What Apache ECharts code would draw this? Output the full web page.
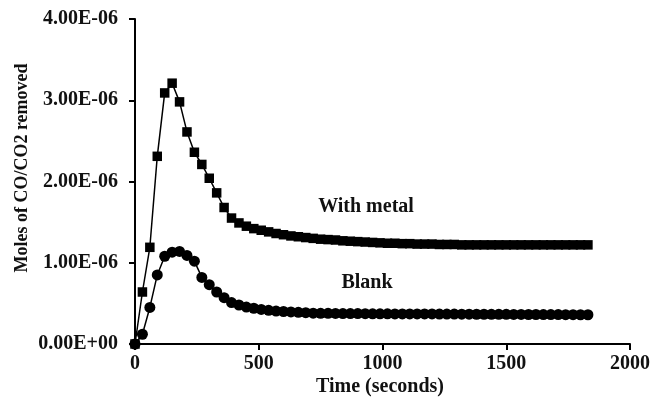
<!DOCTYPE html>
<html>
<head>
<meta charset="utf-8">
<script src="https://cdn.jsdelivr.net/npm/echarts@6/dist/echarts.min.js"></script>
<style>
  html, body { margin: 0; padding: 0; background: #fff; }
  #chart { width: 653px; height: 410px; }
</style>
</head>
<body>
<div id="chart"></div>
<script>
// time in seconds, sampled every 30 s
const times = [
  0, 30, 60, 90, 120, 150, 180, 210, 240, 270, 300, 330, 360, 390, 420, 450,
  480, 510, 540, 570, 600, 630, 660, 690, 720, 750, 780, 810, 840, 870, 900,
  930, 960, 990, 1020, 1050, 1080, 1110, 1140, 1170, 1200, 1230, 1260, 1290,
  1320, 1350, 1380, 1410, 1440, 1470, 1500, 1530, 1560, 1590, 1620, 1650,
  1680, 1710, 1740, 1770, 1800, 1830
];

// moles removed, in units of 1E-06
const withMetal = [
  0, 0.64, 1.19, 2.31, 3.09, 3.21, 2.98, 2.61, 2.36, 2.21, 2.04, 1.86, 1.68,
  1.55, 1.49, 1.45, 1.42, 1.40, 1.38, 1.36, 1.345, 1.33, 1.32, 1.31, 1.30,
  1.29, 1.285, 1.28, 1.27, 1.265, 1.26, 1.255, 1.25, 1.245, 1.24, 1.24, 1.235,
  1.235, 1.23, 1.23, 1.23, 1.225, 1.225, 1.225, 1.22, 1.22, 1.22, 1.22, 1.22,
  1.22, 1.22, 1.22, 1.22, 1.22, 1.22, 1.22, 1.22, 1.22, 1.22, 1.22, 1.22, 1.22
];

const blank = [
  0, 0.12, 0.45, 0.85, 1.08, 1.13, 1.14, 1.09, 1.02, 0.82, 0.73, 0.64, 0.57,
  0.51, 0.48, 0.455, 0.44, 0.425, 0.415, 0.405, 0.40, 0.395, 0.39, 0.385,
  0.38, 0.378, 0.377, 0.376, 0.375, 0.375, 0.374, 0.373, 0.372, 0.372, 0.371,
  0.37, 0.37, 0.37, 0.37, 0.37, 0.37, 0.369, 0.368, 0.368, 0.367, 0.367,
  0.366, 0.366, 0.365, 0.365, 0.365, 0.364, 0.364, 0.363, 0.363, 0.362,
  0.362, 0.362, 0.361, 0.361, 0.36, 0.36
];

const xTicks = [0, 500, 1000, 1500, 2000];
const yTicks = [0, 1e-6, 2e-6, 3e-6, 4e-6];

const FONT = 'Liberation Serif';

function sci(v) {
  if (v === 0) return '0.00E+00';
  const exp = Math.floor(Math.log10(Math.abs(v)) + 1e-9);
  const mant = v / Math.pow(10, exp);
  const sign = exp < 0 ? '-' : '+';
  const e = String(Math.abs(exp)).padStart(2, '0');
  return mant.toFixed(2) + 'E' + sign + e;
}

const chart = echarts.init(document.getElementById('chart'));

const lineStyle = { color: '#000', width: 1.5 };

chart.setOption({
  animation: false,
  backgroundColor: '#fff',
  grid: { left: 135, right: 22, top: 19, bottom: 66 },
  xAxis: {
    type: 'value',
    min: xTicks[0], max: xTicks[xTicks.length - 1], interval: 500,
    axisLine: { show: true, onZero: false, lineStyle: { color: '#000', width: 2 } },
    axisTick: { show: true, inside: false, length: 6, lineStyle: { color: '#000', width: 2 } },
    axisLabel: { color: '#111', fontFamily: FONT, fontWeight: 'bold', fontSize: 20, margin: 10,
      formatter: v => String(v) },
    splitLine: { show: false }
  },
  yAxis: {
    type: 'value',
    min: yTicks[0], max: yTicks[yTicks.length - 1], interval: 1e-6,
    axisLine: { show: true, onZero: false, lineStyle: { color: '#000', width: 2 } },
    axisTick: { show: true, inside: false, length: 6, lineStyle: { color: '#000', width: 2 } },
    axisLabel: { color: '#111', fontFamily: FONT, fontWeight: 'bold', fontSize: 20, margin: 17, formatter: sci },
    splitLine: { show: false }
  },
  graphic: [
    { type: 'text', x: 22, y: 168, rotation: Math.PI / 2,
      style: { text: 'Moles of CO/CO2 removed', fill: '#111', font: 'bold 18px "Liberation Serif"', align: 'center', verticalAlign: 'middle' } },
    { type: 'text', x: 380, y: 387,
      style: { text: 'Time (seconds)', fill: '#111', font: 'bold 20px "Liberation Serif"', align: 'center', verticalAlign: 'middle' } },
    { type: 'text', x: 366, y: 207,
      style: { text: 'With metal', fill: '#111', font: 'bold 20px "Liberation Serif"', align: 'center', verticalAlign: 'middle' } },
    { type: 'text', x: 367, y: 283,
      style: { text: 'Blank', fill: '#111', font: 'bold 20px "Liberation Serif"', align: 'center', verticalAlign: 'middle' } }
  ],
  series: [
    {
      name: 'With metal',
      type: 'line',
      data: times.map((t, i) => [t, withMetal[i] * 1e-6]),
      symbol: 'rect',
      symbolSize: 9.5,
      showAllSymbol: true,
      itemStyle: { color: '#000' },
      lineStyle: lineStyle
    },
    {
      name: 'Blank',
      type: 'line',
      data: times.map((t, i) => [t, blank[i] * 1e-6]),
      symbol: 'circle',
      symbolSize: 11,
      showAllSymbol: true,
      itemStyle: { color: '#000' },
      lineStyle: lineStyle
    }
  ]
});
</script>
</body>
</html>
